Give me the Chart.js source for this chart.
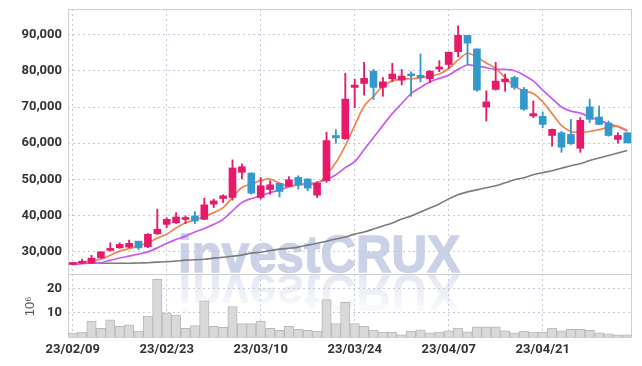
<!DOCTYPE html>
<html>
<head>
<meta charset="utf-8">
<script src="https://cdn.jsdelivr.net/npm/chart.js@4"></script>
<style>
  html, body { margin: 0; padding: 0; background: #fff; }
</style>
</head>
<body>
<canvas id="chart" width="642" height="366"></canvas>
<script>
const dates = [
  '23/02/09','23/02/10','23/02/13','23/02/14','23/02/15','23/02/16','23/02/17','23/02/20','23/02/21','23/02/22',
  '23/02/23','23/02/24','23/02/27','23/02/28','23/03/02','23/03/03','23/03/06','23/03/07','23/03/08','23/03/09',
  '23/03/10','23/03/13','23/03/14','23/03/15','23/03/16','23/03/17','23/03/20','23/03/21','23/03/22','23/03/23',
  '23/03/24','23/03/27','23/03/28','23/03/29','23/03/30','23/03/31','23/04/03','23/04/04','23/04/05','23/04/06',
  '23/04/07','23/04/10','23/04/11','23/04/12','23/04/13','23/04/14','23/04/17','23/04/18','23/04/19','23/04/20',
  '23/04/21','23/04/24','23/04/25','23/04/26','23/04/27','23/04/28','23/05/02','23/05/03','23/05/04','23/05/08'
];

const open = [26450, 26800, 26800, 28250, 30350, 31050, 31250, 32900, 31350, 34950,
  37550, 38000, 38900, 39900, 38950, 43150, 44700, 45000, 51950, 51750,
  45000, 47200, 48900, 48050, 50550, 50100, 45650, 49650, 62150, 61250,
  75450, 76550, 79950, 75450, 77850, 77450, 79150, 78800, 77850, 80550,
  81800, 85350, 89850, 86100, 70050, 74900, 77000, 78200, 74900, 67550,
  67450, 62150, 62900, 62450, 58600, 70050, 67250, 65600, 61050, 62900];
const high = [26750, 27900, 29000, 30000, 32450, 32450, 33200, 32900, 35000, 41750,
  39400, 40800, 39900, 41100, 44800, 44550, 45750, 55400, 54300, 51850,
  50550, 49650, 49050, 50750, 51000, 50200, 49350, 63050, 63750, 79350,
  77750, 82400, 80450, 78200, 82100, 80450, 79800, 84700, 80100, 82850,
  85250, 92500, 89850, 86100, 74500, 82400, 79150, 78600, 75450, 71700,
  68650, 63950, 63250, 66600, 67100, 72200, 70300, 66150, 62900, 62900];
const low = [26400, 26650, 26750, 28200, 30150, 30900, 31100, 30600, 31100, 34750,
  36600, 37800, 37750, 37750, 38850, 42200, 43600, 44250, 50100, 45900,
  44550, 45900, 45150, 47950, 47300, 46850, 45000, 49150, 60000, 61050,
  69850, 73300, 72100, 73000, 77000, 76100, 73000, 77000, 76700, 79800,
  80700, 83950, 81750, 74400, 66150, 74700, 74400, 74900, 69100, 67100,
  64300, 59200, 57500, 59650, 57500, 65700, 65200, 61950, 60000, 60100];
const close = [26650, 27100, 28200, 29950, 30600, 32000, 32300, 31050, 34800, 36200,
  38950, 39600, 39100, 38500, 42950, 44050, 45450, 53150, 53500, 46200,
  48250, 48500, 46650, 49900, 48450, 47600, 48900, 60750, 61500, 72200,
  76100, 77950, 75450, 77000, 79150, 78600, 78650, 78200, 79950, 81000,
  85200, 89850, 87700, 74700, 71450, 77200, 77750, 75450, 69400, 68200,
  65200, 63850, 58900, 59850, 66350, 66600, 65200, 62150, 62150, 60100];

// moving averages
const ma5 = [26700, 27100, 27500, 27900, 29000, 30150, 30850, 31550, 32450, 33750,
  34850, 36550, 38000, 38750, 39750, 40800, 42200, 45000, 47750, 48700,
  49650, 50100, 48900, 48050, 48700, 48700, 48800, 51300, 54650, 59350,
  64950, 70250, 73000, 75800, 77250, 77750, 77850, 78100, 78600, 79150,
  80700, 83050, 84900, 83800, 82200, 80700, 78200, 75800, 74500, 73750,
  71450, 68200, 64950, 63250, 63000, 63250, 63750, 64450, 64650, 63550];
const ma20 = [26500, 26650, 26800, 26900, 27650, 28250, 28750, 29300, 29950, 31050,
  32350, 33350, 34300, 35450, 36400, 37550, 38950, 41300, 43600, 44700,
  45450, 46350, 47050, 47950, 48450, 48700, 49150, 49900, 51300, 53250,
  54900, 58250, 61600, 64950, 68200, 71000, 73750, 75450, 77000, 77950,
  78850, 80450, 81650, 81350, 80900, 80450, 80450, 80050, 78850, 77250,
  74700, 72350, 70050, 68900, 68350, 67250, 66350, 65400, 64650, 63350];
const ma60 = [26800, 26800, 26800, 26800, 26800, 26800, 26800, 26850, 26950, 27100,
  27200, 27400, 27650, 27750, 27900, 28200, 28450, 28750, 29050, 29600,
  29850, 30300, 30700, 30950, 31250, 31800, 32350, 32900, 33500, 34050,
  34850, 35450, 36250, 37100, 37950, 39050, 39900, 41000, 42100, 43200,
  44600, 45750, 46550, 47100, 47700, 48250, 49050, 49900, 50450, 51300,
  51850, 52400, 53100, 53800, 54350, 55200, 55900, 56600, 57300, 58000];

// volume in millions of shares
const volume = [1.6, 2.0, 6.6, 3.6, 7.1, 4.4, 5.1, 2.4, 8.7, 24.0,
  10.0, 9.1, 3.6, 4.7, 15.1, 4.4, 4.0, 12.7, 5.6, 5.6,
  6.6, 3.6, 2.8, 4.4, 3.2, 2.8, 2.4, 15.6, 5.6, 14.4,
  5.6, 4.4, 2.9, 2.0, 2.0, 0.9, 2.4, 3.0, 1.7, 2.0,
  2.6, 3.7, 2.1, 4.2, 4.2, 4.2, 2.6, 1.7, 2.4, 2.0,
  2.0, 3.7, 2.6, 3.2, 3.2, 2.8, 1.7, 1.3, 0.9, 0.9];

const priceTicks = [30000, 40000, 50000, 60000, 70000, 80000, 90000];
const volumeTicks = [10, 20];

const UP = '#e8196a';
const DOWN = '#3399cc';
const gridColor = '#c4c8da';
const tickFont = { family: 'Roboto', size: 13, weight: 'bold' };

const candleColors = close.map((c, i) => c >= open[i] ? UP : DOWN);

// drop the label overhang so the panels fill the area
function noPad(s) {
  s.width = 68;
  s.paddingTop = 0;
  s.paddingBottom = 0;
}

const watermark = {
  id: 'watermark',
  beforeDraw(chart) {
    const ctx = chart.ctx;
    const y = chart.scales.y;
    const base = y.bottom - 2;
    const cx = chart.chartArea.left + 251;
    ctx.save();
    ctx.font = 'bold 51px "Liberation Sans"';
    ctx.textAlign = 'center';
    ctx.textBaseline = 'alphabetic';
    const w = ctx.measureText('investCRUX').width;
    ctx.translate(cx, base);
    ctx.scale(282 / w, 1);
    ctx.fillStyle = 'rgb(203,209,231)';
    ctx.strokeStyle = 'rgb(203,209,231)';
    ctx.lineWidth = 1.4;
    ctx.fillText('investCRUX', 0, 0);
    ctx.strokeText('investCRUX', 0, 0);
    // reflection
    ctx.scale(1, -1);
    ctx.translate(0, -3);
    const g = ctx.createLinearGradient(0, 0, 0, -40);
    g.addColorStop(0, 'rgba(205,211,232,0.55)');
    g.addColorStop(1, 'rgba(205,211,232,0.05)');
    ctx.fillStyle = g;
    ctx.fillText('investCRUX', 0, 0);
    ctx.restore();
  }
};

const frame = {
  id: 'frame',
  beforeDatasetsDraw(chart) {
    const ctx = chart.ctx;
    const a = chart.chartArea;
    const sep = chart.scales.y.bottom;
    ctx.save();
    ctx.strokeStyle = '#cfcfcf';
    ctx.lineWidth = 1;
    ctx.strokeRect(Math.round(a.left) + 0.5, Math.round(a.top) + 0.5,
      Math.round(a.right - a.left) - 1, Math.round(a.bottom - a.top) - 1);
    ctx.beginPath();
    ctx.moveTo(a.left, Math.round(sep) + 0.5);
    ctx.lineTo(a.right, Math.round(sep) + 0.5);
    ctx.stroke();
    ctx.restore();
  }
};

new Chart(document.getElementById('chart'), {
  type: 'bar',
  data: {
    labels: dates,
    datasets: [
      {
        label: 'wick',
        data: dates.map((d, i) => [low[i], high[i]]),
        backgroundColor: candleColors,
        barThickness: 1.2,
        grouped: false,
        yAxisID: 'y',
        order: 1
      },
      {
        label: 'body',
        data: dates.map((d, i) => [open[i], close[i]]),
        backgroundColor: candleColors,
        barThickness: 7,
        minBarLength: 2,
        grouped: false,
        yAxisID: 'y',
        order: 0
      },
      {
        type: 'line', label: 'MA5', data: ma5, borderColor: '#f0844c', borderWidth: 1.7,
        pointRadius: 0, tension: 0.3, yAxisID: 'y', order: 2
      },
      {
        type: 'line', label: 'MA20', data: ma20, borderColor: '#c75cf0', borderWidth: 1.7,
        pointRadius: 0, tension: 0.3, yAxisID: 'y', order: 2
      },
      {
        type: 'line', label: 'MA60', data: ma60, borderColor: '#7b7b7b', borderWidth: 1.6,
        pointRadius: 0, tension: 0.3, yAxisID: 'y', order: 2
      },
      {
        label: 'volume',
        data: volume,
        backgroundColor: '#d9d9d9',
        borderColor: '#b8b8b8',
        borderWidth: 1,
        barPercentage: 1,
        categoryPercentage: 1,
        grouped: false,
        yAxisID: 'v',
        order: 3
      }
    ]
  },
  options: {
    responsive: false,
    animation: false,
    layout: { padding: { top: 9, right: 10, bottom: 4, left: 0 } },
    plugins: { legend: { display: false }, tooltip: { enabled: false } },
    scales: {
      x: {
        offset: true,
        afterFit: s => { s.paddingLeft = 0; s.paddingRight = 0; },
        grid: {
          offset: false,
          drawTicks: false,
          color: ctx => ctx.index % 10 === 0 ? gridColor : 'rgba(0,0,0,0)'
        },
        border: { display: false, dash: [2, 3] },
        ticks: {
          autoSkip: false,
          maxRotation: 0,
          padding: 4,
          color: '#333',
          font: tickFont,
          callback: (v, i) => i % 10 === 0 ? dates[i] : ''
        }
      },
      v: {
        position: 'left',
        stack: 'panels',
        stackWeight: 1,
        min: -0.6,
        max: 26.2,
        afterBuildTicks: s => { s.ticks = volumeTicks.map(v => ({ value: v })); },
        afterFit: noPad,
        grid: { color: gridColor, drawTicks: false },
        border: { display: false, dash: [2, 3] },
        title: {
          display: true,
          text: '10⁶',
          color: '#555',
          font: { family: '"Liberation Sans"', size: 13 },
          padding: { top: 23, bottom: 0 }
        },
        ticks: { padding: 6, color: '#333', font: tickFont }
      },
      y: {
        position: 'left',
        stack: 'panels',
        stackWeight: 4.12,
        min: 23800,
        max: 97150,
        afterBuildTicks: s => { s.ticks = priceTicks.map(v => ({ value: v })); },
        afterFit: noPad,
        grid: { color: gridColor, drawTicks: false },
        border: { display: false, dash: [2, 3] },
        ticks: {
          padding: 6,
          color: '#333',
          font: tickFont,
          callback: v => v.toLocaleString('en-US')
        }
      }
    }
  },
  plugins: [watermark, frame]
});
</script>
</body>
</html>
